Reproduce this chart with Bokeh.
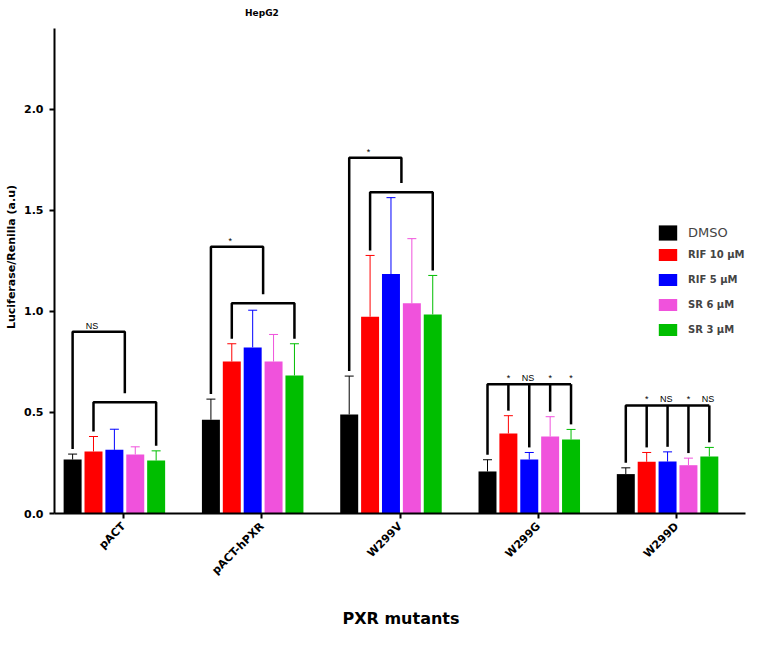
import numpy as np
from bokeh.plotting import figure
from bokeh.models import (Range1d, FixedTicker, Whisker, TeeHead, ColumnDataSource,
                          Legend, LegendItem, Label, PrintfTickFormatter)
from bokeh.embed import file_html
from bokeh.resources import INLINE

# ---------------- data ----------------
categories = ["pACT", "pACT-hPXR", "W299V", "W299G", "W299D"]
series_names = ["DMSO", "RIF 10 µM", "RIF 5 µM", "SR 6 µM", "SR 3 µM"]

dmso_mean = [0.267, 0.464, 0.490, 0.208, 0.195]
dmso_sd   = [0.027, 0.102, 0.190, 0.058, 0.031]
rif10_mean = [0.307, 0.752, 0.974, 0.396, 0.256]
rif10_sd   = [0.074, 0.088, 0.303, 0.088, 0.046]
rif5_mean = [0.315, 0.822, 1.185, 0.267, 0.257]
rif5_sd   = [0.102, 0.184, 0.378, 0.035, 0.048]
sr6_mean = [0.292, 0.752, 1.040, 0.381, 0.239]
sr6_sd   = [0.038, 0.134, 0.320, 0.098, 0.035]
sr3_mean = [0.262, 0.683, 0.985, 0.366, 0.282]
sr3_sd   = [0.048, 0.157, 0.193, 0.050, 0.045]

# significance annotations
nested_groups = [0, 1, 2]            # DMSO vs. bracket of treatments
nested_outer = [0.90, 1.32, 1.76]    # bracket heights
nested_inner = [0.55, 1.04, 1.59]
nested_label = ["NS", "*", "*"]
comb_groups = [3, 4]
comb_height = [0.64, 0.535]
comb_labels = [["*", "NS", "*", "*"], ["*", "NS", "*", "NS"]]

y_ticks = [0.0, 0.5, 1.0, 1.5, 2.0]
y_axis_top = 2.40

means = [dmso_mean, rif10_mean, rif5_mean, sr6_mean, sr3_mean]
sds = [dmso_sd, rif10_sd, rif5_sd, sr6_sd, sr3_sd]
colors = ["#000000", "#FF0000", "#0000FF", "#F052DC", "#00BE00"]

FONT = "DejaVu Sans"
step = 0.151
shift = -0.067
bar_w = 0.13
gap = 0.025

p = figure(width=747, height=643, x_range=Range1d(-0.5, 4.511), y_range=Range1d(0, 2.5386),
           output_backend="svg", toolbar_location=None, title=None,
           min_border_left=54, min_border_right=0, min_border_top=0, min_border_bottom=130)
p.outline_line_color = None
p.xgrid.visible = False
p.ygrid.visible = False

renderers = []
tops = []
xs_all = []
for k in range(5):
    x = np.arange(len(categories)) + (k - 2) * step + shift
    m = np.array(means[k])
    s = np.array(sds[k])
    xs_all.append(x)
    tops.append(m + s)
    src = ColumnDataSource(dict(x=x, m=m, u=m + s))
    r = p.vbar(x="x", top="m", width=bar_w, source=src, fill_color=colors[k], line_color=None)
    renderers.append(r)
    w = Whisker(base="x", lower="m", upper="u", source=src, line_color=colors[k], line_width=1,
                upper_head=TeeHead(size=9, line_color=colors[k], line_width=1), lower_head=None)
    p.add_layout(w)

# brackets
bxs, bys = [], []
tx, ty, tt = [], [], []
for gi, g in enumerate(nested_groups):
    hin = nested_inner[gi]
    hout = nested_outer[gi]
    xl, xr = xs_all[1][g], xs_all[4][g]
    bxs.append([xl, xl, xr, xr])
    bys.append([tops[1][g] + gap, hin, hin, tops[4][g] + gap])
    xm = (xl + xr) / 2
    x0 = xs_all[0][g]
    bxs.append([x0, x0, xm, xm])
    bys.append([tops[0][g] + gap, hout, hout, hin + 0.045])
    tx.append(x0 + 0.37 * (xm - x0))
    ty.append(hout)
    tt.append(nested_label[gi])

for gi, g in enumerate(comb_groups):
    h = comb_height[gi]
    x0, x4 = xs_all[0][g], xs_all[4][g]
    bxs.append([x0, x0, x4])
    bys.append([tops[0][g] + gap, h, h])
    for k in range(1, 5):
        xk = xs_all[k][g]
        bxs.append([xk, xk])
        bys.append([h, tops[k][g] + gap])
        lab = comb_labels[gi][k - 1]
        tx.append(xk - (0.01 if lab == "NS" else 0.0))
        ty.append(h)
        tt.append(lab)

p.multi_line(xs=bxs, ys=bys, line_color="black", line_width=2.5)
p.text(x=tx, y=ty, text=tt, text_font_size="9px", text_align="center", text_baseline="bottom",
       y_offset=-1, text_color="black")

# axes
xa = p.xaxis[0]
xa.ticker = FixedTicker(ticks=list(range(len(categories))))
xa.major_label_overrides = {i: c for i, c in enumerate(categories)}
xa.major_label_orientation = np.pi / 4
xa.minor_tick_line_color = None
xa.bounds = (-0.5, 4.5)
ya = p.yaxis[0]
ya.ticker = FixedTicker(ticks=y_ticks)
ya.formatter = PrintfTickFormatter(format="%.1f")
ya.minor_tick_line_color = None
ya.bounds = (0, y_axis_top)
for ax in (xa, ya):
    ax.axis_line_width = 2
    ax.major_tick_line_width = 2
    ax.major_tick_out = 5
    ax.major_tick_in = 0
    ax.major_label_text_font = FONT
    ax.major_label_text_font_style = "bold"
    ax.major_label_text_font_size = "11px"
    ax.major_label_text_color = "black"
    ax.axis_label_text_font = FONT
    ax.axis_label_text_font_style = "bold"
    ax.axis_label_text_color = "black"
xa.major_label_standoff = 6
ya.major_label_standoff = 6
xa.axis_label = "PXR mutants"
xa.axis_label_text_font_size = "16px"
xa.axis_label_standoff = 24
ya.axis_label = "Luciferase/Renilla (a.u)"
ya.axis_label_text_font_size = "11px"
ya.axis_label_standoff = 3

# title (inside the extended frame, above the axis top)
p.add_layout(Label(x=1, y=y_axis_top, y_offset=16, text="HepG2", text_align="center",
                   text_baseline="middle", text_font=FONT, text_font_style="bold",
                   text_font_size="9px", text_color="black"))

# legends
common = dict(padding=0, margin=0, border_line_alpha=0, background_fill_alpha=0,
              glyph_width=23, label_standoff=9)
leg1 = Legend(items=[LegendItem(label=series_names[0], renderers=[renderers[0]])],
              location=(602, 271), glyph_height=19, label_height=19,
              label_text_font=FONT, label_text_font_size="13px", **common)
leg2 = Legend(items=[LegendItem(label=series_names[k], renderers=[renderers[k]]) for k in range(1, 5)],
              location=(602, 176), glyph_height=15, label_height=15, spacing=10,
              label_text_font=FONT, label_text_font_style="bold", label_text_font_size="10px", **common)
p.add_layout(leg1)
p.add_layout(leg2)

open("out.html", "w").write(file_html(p, INLINE))
